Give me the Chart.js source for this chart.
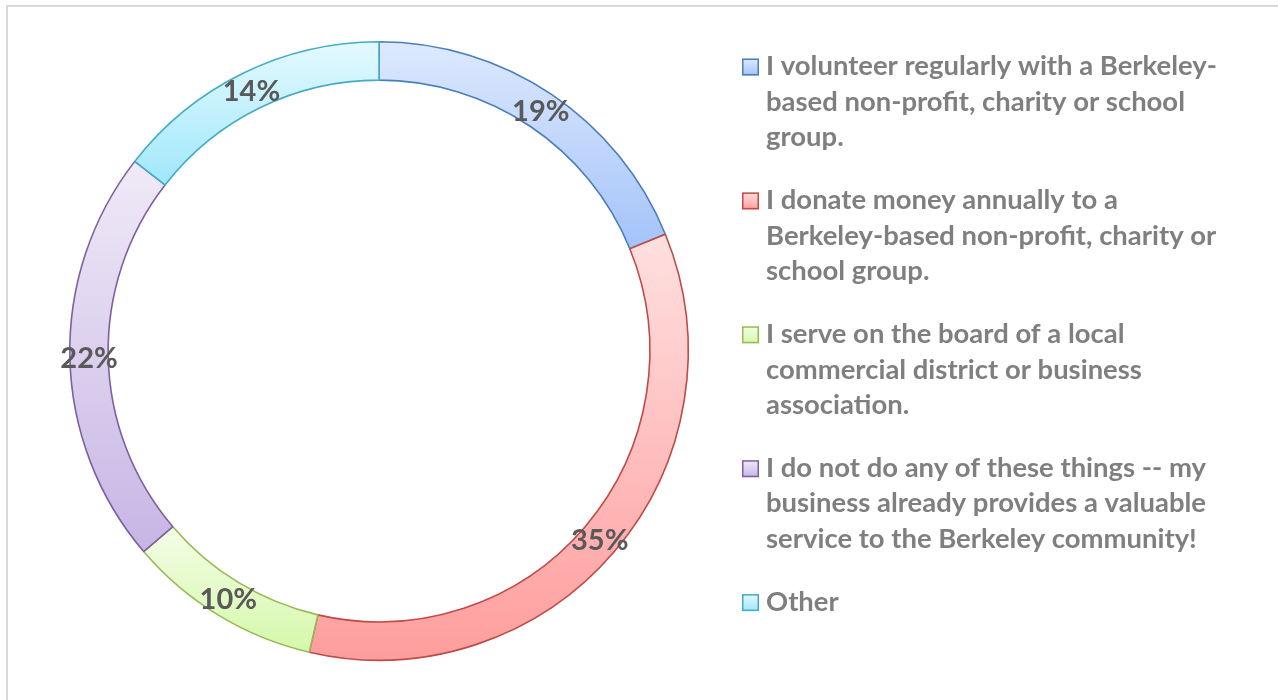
<!DOCTYPE html>
<html>
<head>
<meta charset="utf-8">
<script src="https://cdn.jsdelivr.net/npm/chart.js@4.4.1/dist/chart.umd.min.js"></script>
<style>
html,body{margin:0;padding:0;background:#fff;overflow:hidden}
#wrap{position:relative;width:1278px;height:700px}
</style>
</head>
<body>
<div id="wrap"><canvas id="c" width="1278" height="700"></canvas></div>
<script>
// ---- data ----
const categories = [
  ["I volunteer regularly with a Berkeley-", "based non-profit, charity or school", "group."],
  ["I donate money annually to a", "Berkeley-based non-profit, charity or", "school group."],
  ["I serve on the board of a local", "commercial district or business", "association."],
  ["I do not do any of these things -- my", "business already provides a valuable", "service to the Berkeley community!"],
  ["Other"]
];
// estimated response counts (slice angles; shown as rounded % of total)
const values = [26, 48, 14, 30, 20];

// ---- styles ----
const topColors    = ['#dde9fd', '#ffe0e0', '#f4fde7', '#f0eaf7', '#e3fafe'];
const bottomColors = ['#a4c3fa', '#ff9d9d', '#d5f8aa', '#c7b5e5', '#a0e7fb'];
const borderColors = ['#4a7ebb', '#be4b48', '#98b954', '#7d60a0', '#46aac5'];
const FONT = 'Lato, Carlito, "Open Sans", sans-serif';

function arcGradient(ctx) {
  const chart = ctx.chart;
  const i = ctx.dataIndex;
  const el = chart.getDatasetMeta(0).data[i];
  if (!el || !el.outerRadius) return topColors[i];
  let ymin = Infinity, ymax = -Infinity;
  const n = 60;
  for (let k = 0; k <= n; k++) {
    const a = el.startAngle + (el.endAngle - el.startAngle) * k / n;
    for (const r of [el.innerRadius, el.outerRadius]) {
      const y = el.y + Math.sin(a) * r;
      if (y < ymin) ymin = y;
      if (y > ymax) ymax = y;
    }
  }
  if (ymax - ymin < 1) ymax = ymin + 1;
  const g = chart.ctx.createLinearGradient(0, ymin, 0, ymax);
  g.addColorStop(0, topColors[i]);
  g.addColorStop(1, bottomColors[i]);
  return g;
}

const framePlugin = {
  id: 'frame',
  beforeDraw(chart) {
    const c = chart.ctx;
    c.save();
    c.fillStyle = '#ffffff';
    c.fillRect(0, 0, chart.width, chart.height);
    c.strokeStyle = '#d9d9d9';
    c.lineWidth = 2;
    c.strokeRect(7, 6, 1400, 1000);
    c.restore();
  }
};

const labelPlugin = {
  id: 'sliceLabels',
  afterDatasetsDraw(chart) {
    const c = chart.ctx;
    const meta = chart.getDatasetMeta(0);
    const data = chart.data.datasets[0].data;
    const total = data.reduce((a, b) => a + b, 0);
    const size = 29;
    c.save();
    c.font = 'bold ' + size + 'px ' + FONT;
    c.fillStyle = '#595959';
    c.textAlign = 'center';
    c.textBaseline = 'alphabetic';
    meta.data.forEach((arc, i) => {
      const p = arc.getCenterPoint(true);
      const pct = Math.round(data[i] / total * 100) + '%';
      c.fillText(pct, p.x, p.y + size * 0.36);
    });
    c.restore();
  }
};

const legendPlugin = {
  id: 'wrapLegend',
  afterDraw(chart) {
    const c = chart.ctx;
    const labels = chart.data.labels;
    const x0 = 742, box = 17, textX = 766;
    let y = 67;
    const lineH = 35.7, gap = 26.8;
    c.save();
    c.font = 'bold 100px ' + FONT;
    const w = c.measureText(labels[0][0]).width;
    const fs = 100 * 451 / w;
    c.font = 'bold ' + fs.toFixed(2) + 'px ' + FONT;
    labels.forEach((lines, i) => {
      const by = y - box / 2;
      const g = c.createLinearGradient(0, by, 0, by + box);
      g.addColorStop(0, topColors[i]);
      g.addColorStop(1, bottomColors[i]);
      c.fillStyle = g;
      c.fillRect(x0, by, box, box);
      c.strokeStyle = borderColors[i];
      c.lineWidth = 1.5;
      c.strokeRect(x0 + 0.75, by + 0.75, box - 1.5, box - 1.5);
      c.fillStyle = '#7f7f7f';
      c.textAlign = 'left';
      c.textBaseline = 'alphabetic';
      lines.forEach((ln, k) => {
        c.fillText(ln, textX, y + 8 + k * lineH);
      });
      y += lines.length * lineH + gap;
    });
    c.restore();
  }
};

const chart = new Chart(document.getElementById('c'), {
  type: 'doughnut',
  data: {
    labels: categories,
    datasets: [{
      data: values,
      backgroundColor: arcGradient,
      borderColor: borderColors,
      borderWidth: 1.6,
      borderAlign: 'center'
    }]
  },
  options: {
    responsive: false,
    animation: false,
    cutout: '87.6%',
    layout: { padding: { left: 69, top: 41, right: 589, bottom: 39 } },
    plugins: {
      legend: { display: false },
      tooltip: { enabled: false },
      title: { display: false }
    },
    events: []
  },
  plugins: [framePlugin, labelPlugin, legendPlugin]
});
chart.update();
</script>
</body>
</html>
